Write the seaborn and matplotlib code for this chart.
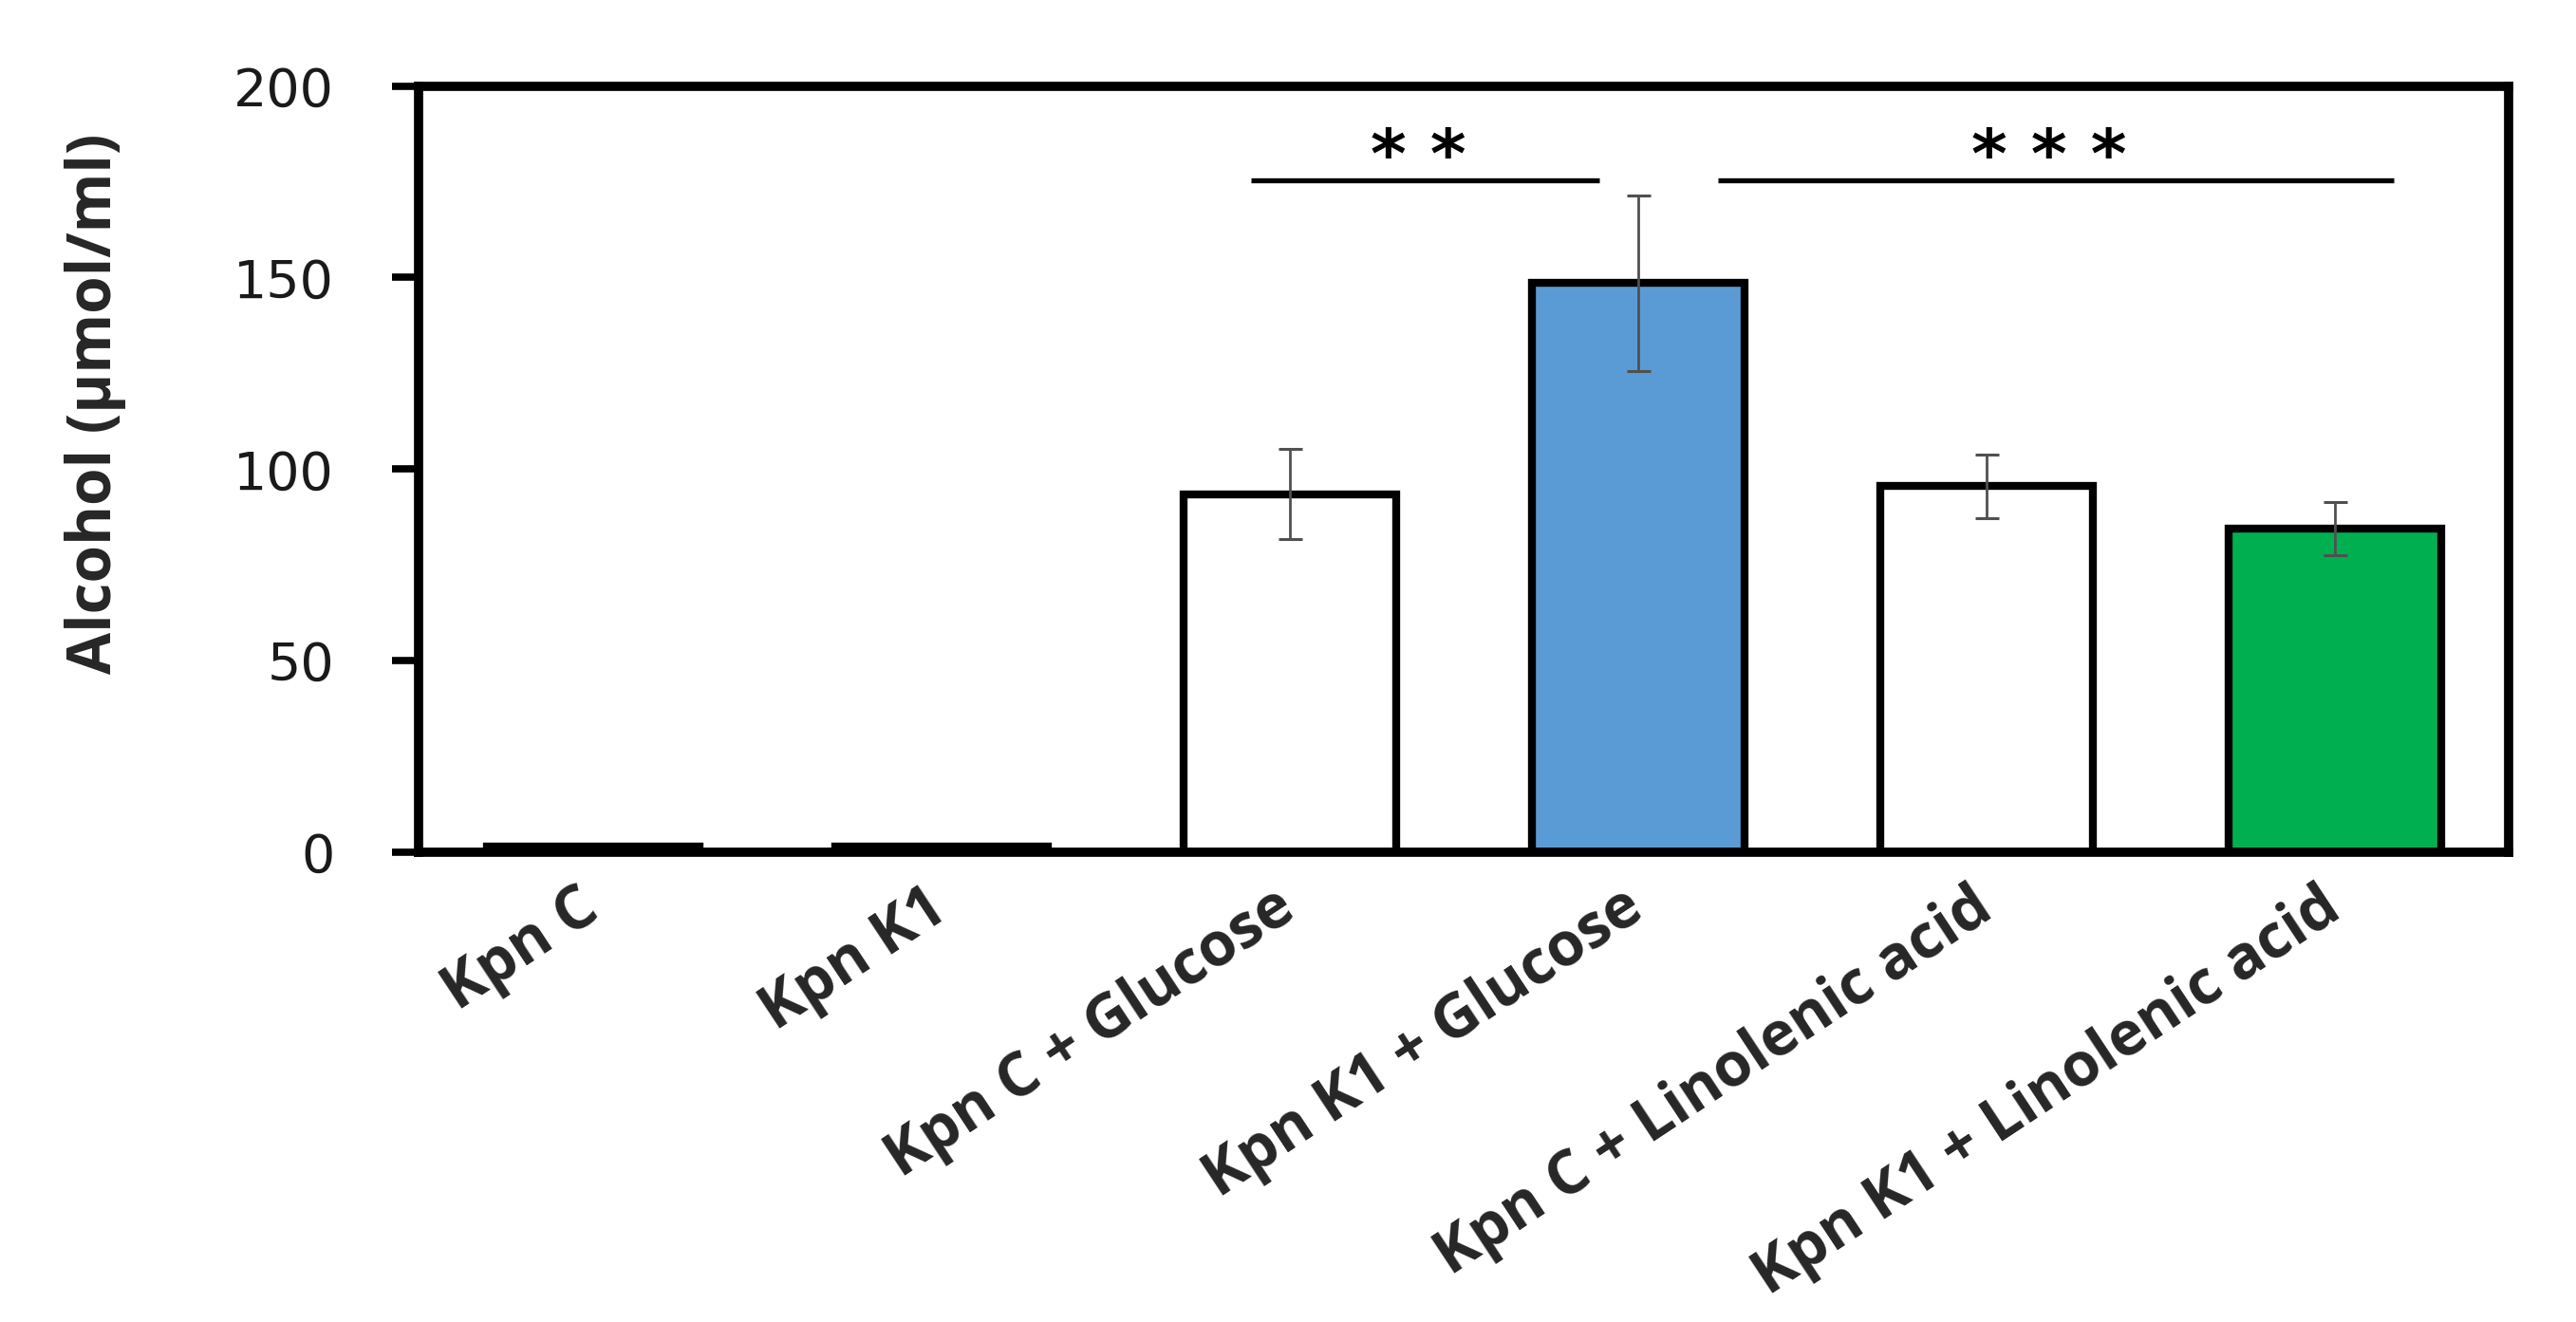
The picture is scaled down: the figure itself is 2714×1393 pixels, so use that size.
import matplotlib
matplotlib.use("Agg")
import matplotlib.pyplot as plt
import matplotlib.transforms as mtransforms
import seaborn as sns
import pandas as pd
import numpy as np

categories = ["Kpn C", "Kpn K1", "Kpn C + Glucose", "Kpn K1 + Glucose",
              "Kpn C + Linolenic acid", "Kpn K1 + Linolenic acid"]
values = [1.5, 1.5, 93.5, 148.5, 95.5, 84.5]
errors = [0.0, 0.0, 11.8, 23.0, 8.3, 7.0]
colors = ["#FFFFFF", "#FFFFFF", "#FFFFFF", "#5B9BD5", "#FFFFFF", "#00B050"]
yticks = [0, 50, 100, 150, 200]
sig_labels = ["* *", "* * *"]
sig_spans = [(1.89, 2.89), (3.23, 5.17)]
sig_y = 175.3
sig_text_y = 176.0

sns.set_theme(style="white")
plt.rcParams['font.family'] = ['DejaVu Sans']

df = pd.DataFrame({"group": categories, "alcohol": values})

fig = plt.figure(figsize=(27.14, 13.93), dpi=100)
ax = fig.add_axes([0.1625, 0.3553, 0.8115, 0.5797])

sns.barplot(data=df, x="group", y="alcohol", hue="group", order=categories,
            hue_order=categories, palette=colors, saturation=1, dodge=False,
            legend=False, width=0.61, edgecolor="black", linewidth=6,
            errorbar=None, ax=ax, zorder=2)

ax.errorbar(np.arange(len(categories))[2:], values[2:], yerr=errors[2:], fmt="none",
            ecolor="#505050", elinewidth=2, capsize=9, capthick=2.2, zorder=5)

for (x0, x1), lab in zip(sig_spans, sig_labels):
    ax.plot([x0, x1], [sig_y, sig_y], color="black", lw=3.8, solid_capstyle="butt",
            zorder=4, clip_on=False)
    ax.text((x0 + x1) / 2 - 0.02, sig_text_y, lab, ha="center", va="baseline",
            fontsize=52, fontweight="bold", color="black")

ax.set_xlim(-0.5, 5.5)
ax.set_ylim(0, 200)
ax.set_yticks(yticks)
ax.set_yticklabels([str(t) for t in yticks], fontsize=40, color="#1a1a1a")
ax.set_xticks(range(len(categories)))
ax.set_xticklabels(categories, rotation=33.5, ha="right", va="center",
                   rotation_mode="anchor", fontsize=46, fontweight="bold",
                   family="Open Sans")
offset = mtransforms.ScaledTranslation(12 / 72, 0, fig.dpi_scale_trans)
for lbl in ax.get_xticklabels():
    lbl.set_transform(lbl.get_transform() + offset)
ax.tick_params(axis="x", length=0, pad=38)
ax.tick_params(axis="y", direction="out", length=20, width=5.5, pad=44, left=True,
               color="black")
ax.set_xlabel("")
ax.set_ylabel("Alcohol (µmol/ml)", fontsize=46, fontweight="bold",
              family="Open Sans")
ax.yaxis.set_label_coords(-0.14, 0.585)

for s in ax.spines.values():
    s.set_visible(True)
    s.set_color("black")
    s.set_linewidth(7)

fig.savefig("out.png", dpi=100, facecolor="white")
